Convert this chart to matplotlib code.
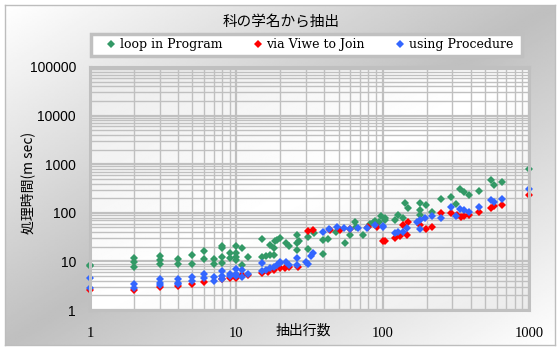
import matplotlib
matplotlib.use("Agg")
import matplotlib.pyplot as plt
import numpy as np
from matplotlib.lines import Line2D
from matplotlib.patches import Rectangle

# 抽出行数 vs 処理時間 (msec)
loop_rows = [1, 1, 2, 2, 2, 3, 3, 3, 4, 4, 5, 5, 6, 6, 7, 7,
             8, 8, 8, 8, 9, 9, 10, 10, 10, 10, 11, 11, 12,
             15, 15, 16, 17, 17, 18, 18, 18.4, 19, 20, 22, 23,
             26, 26, 26, 27, 31, 31, 34, 39, 39, 42, 48, 55, 60,
             65, 66, 73, 82, 86, 89, 94, 98, 103, 103, 121, 128, 138,
             142, 150, 180, 180, 180, 198, 216, 250, 293, 318,
             337, 360, 386, 457, 549, 575, 656, 1000]
loop_ms = [8.5, 8.0, 11.6, 9.8, 7.8, 13.1, 10.7, 8.8, 11.3, 8.8, 13.6, 8.8, 16.5, 11.3, 11.3, 8.9,
           21, 18.7, 12.2, 9.2, 14.8, 12, 21, 14.8, 12.6, 10.7, 19.2, 8.5, 12.6,
           28.7, 12.6, 13.2, 21.8, 13.6, 18.7, 13.6, 25.7, 27.8, 30.1, 23.7, 21.2,
           35.2, 23.7, 17.3, 25.7, 31.6, 17.8, 38.2, 27.8, 14.0, 29.0, 41.0, 23.7, 35,
           66, 52, 35, 59, 61, 68, 66, 84, 71.5, 78, 71.5, 90.8, 78,
           159, 125, 159, 115, 91, 146, 106, 194, 207, 151,
           312, 266, 234, 276, 480, 366, 422, 795]

view_rows = [1, 2, 3, 4, 5, 6, 8, 9, 10, 11, 12,
             15, 16.5, 18, 20, 21.5, 23, 26.5, 31, 33.6, 43.6, 51, 60,
             80, 91, 101, 104, 121, 131, 138, 146, 150, 180, 198, 216,
             250, 293, 320, 342, 360, 386, 457, 549, 575, 656, 1000]
view_ms = [2.6, 2.6, 3.0, 3.1, 3.45, 3.7, 4.3, 4.6, 4.5, 5.2, 5.3,
           5.8, 6.0, 6.7, 7.2, 7.2, 7.8, 7.8, 42.5, 44.5, 44.5, 44.5, 46.7,
           52, 50, 25.7, 26.5, 31, 32.6, 57, 35, 64, 57, 47, 52,
           101, 98, 88, 81, 87, 91, 103, 125, 135, 146, 235]

proc_rows = [1, 1, 2, 2, 3, 3, 3, 4, 4, 4, 5, 5, 6, 6, 7, 7,
             8, 8, 8, 9, 9, 10, 10, 10, 11, 11, 12,
             15, 15, 16, 17, 18, 19, 20, 20, 22, 23, 26, 26, 30, 31, 32.6, 33.6,
             39, 43, 48.5, 54, 60, 68, 78, 89, 101, 101,
             121, 128, 138, 146, 171, 180, 180, 195, 216, 250, 293, 318,
             337, 360, 387, 457, 549, 575, 656, 1000]
proc_ms = [4.6, 2.9, 3.4, 2.9, 4.3, 3.65, 3.3, 4.4, 3.65, 3.4, 4.7, 3.96, 5.4, 4.5, 4.7, 4.0,
           6.4, 5.1, 4.3, 5.4, 4.9, 7.0, 5.5, 4.9, 6.8, 4.7, 5.6,
           9.2, 6.2, 6.7, 7.4, 7.8, 8.5, 9.9, 9.2, 9.5, 8.5, 11.6, 8.5, 9.9, 8.8, 13.2, 15.2,
           40, 46.7, 49.9, 48.4, 46.7, 48.4, 48.4, 56.5, 54, 52,
           38, 41, 41, 48, 66, 71.5, 46, 80, 84, 80, 131, 84,
           118, 112, 106, 129, 185, 166, 192, 316]

x_ticks = [1, 10, 100, 1000]
y_ticks = [1, 10, 100, 1000, 10000, 100000]
series_names = ["loop in Program", "via Viwe to Join", "using Procedure"]

GREEN = "#339966"
RED = "#FF0000"
BLUE = "#3366FF"
GRID = "#C0C0C0"
JP = ["Noto Sans CJK JP", "DejaVu Sans"]

W, H = 560, 350
fig = plt.figure(figsize=(W / 100, H / 100), dpi=100)
fig.patch.set_facecolor("white")


def px_box(x0, y0, x1, y1):
    """Pixel box (top-left origin) -> figure fraction rect."""
    return [x0 / W, 1 - y1 / H, (x1 - x0) / W, (y1 - y0) / H]


# chart area: diagonal gradient, white on the corners top-left / bottom-right
bg = fig.add_axes(px_box(5, 5, 555, 345), zorder=0)
u, v = np.meshgrid(np.linspace(0, 1, 300), np.linspace(0, 1, 200))
shade = 1 - 0.25 * (1 - np.abs(u + v - 1))
bg.imshow(shade, cmap="gray", vmin=0, vmax=1, aspect="auto",
          extent=(0, 1, 0, 1), interpolation="bilinear")
bg.set_xticks([])
bg.set_yticks([])
for s in bg.spines.values():
    s.set_color("#BDBDBD")
    s.set_linewidth(1)

# plot area: light grey on top-left / bottom-right, white through the middle
ax_rect = px_box(90, 67, 529, 310)
pa = fig.add_axes(ax_rect, zorder=1)
shade2 = 1 - 0.08 * np.abs(u + v - 1)
pa.imshow(shade2, cmap="gray", vmin=0, vmax=1, aspect="auto",
          extent=(0, 1, 0, 1), interpolation="bilinear")
pa.axis("off")

ax = fig.add_axes(ax_rect, zorder=2)
ax.patch.set_alpha(0)
ax.set_xscale("log")
ax.set_yscale("log")
ax.set_xlim(1, 1000)
ax.set_ylim(1, 100000)

ax.grid(True, which="major", color=GRID, linewidth=1.6)
ax.grid(True, which="minor", color=GRID, linewidth=1.0)
ax.set_axisbelow(True)
for s in ax.spines.values():
    s.set_color(GRID)
    s.set_linewidth(2.2)

mk = dict(marker="D", markersize=3.6, markeredgewidth=0, linestyle="none", clip_on=False)
ax.plot(loop_rows, loop_ms, color=GREEN, **mk)
ax.plot(view_rows, view_ms, color=RED, **mk)
ax.plot(proc_rows, proc_ms, color=BLUE, **mk)

ax.set_xticks(x_ticks)
ax.set_xticklabels([str(t) for t in x_ticks], family="Liberation Serif", fontsize=10.5)
ax.set_yticks(y_ticks)
ax.set_yticklabels([str(t) for t in y_ticks], family="Liberation Sans", fontsize=10)
ax.tick_params(which="both", length=0)
ax.tick_params(axis="x", pad=12)
ax.tick_params(axis="y", pad=10)

ax.set_xlabel("抽出行数", family=JP, fontsize=10, va="center")
ax.xaxis.set_label_coords(0.487, -0.086)
ax.set_ylabel("処理時間(m sec)", family=JP, fontsize=10, va="center")
ax.yaxis.set_label_coords(-0.141, 0.523)

fig.text(281 / W, 1 - 22 / H, "科の学名から抽出", family=JP,
         fontsize=10.5, ha="center", va="center", zorder=5)

# legend box drawn separately so the frame can be wider than the entries
fig.patches.append(Rectangle((91 / W, 1 - 56 / H), 431 / W, 22 / H, transform=fig.transFigure,
                             facecolor="white", edgecolor=GRID, linewidth=2.5, zorder=4))
handles = [Line2D([], [], color=c, marker="D", markersize=3.6, markeredgewidth=0, linestyle="none")
           for c in (GREEN, RED, BLUE)]
leg = fig.legend(handles, series_names,
                 loc="center left", bbox_to_anchor=(106 / W, 1 - 44.5 / H), ncol=3,
                 prop={"family": "DejaVu Serif", "size": 9},
                 frameon=False, handlelength=0.8, handletextpad=0.32, columnspacing=2.4,
                 borderpad=0, borderaxespad=0)
leg.set_zorder(5)

fig.savefig("out.png", dpi=100)
